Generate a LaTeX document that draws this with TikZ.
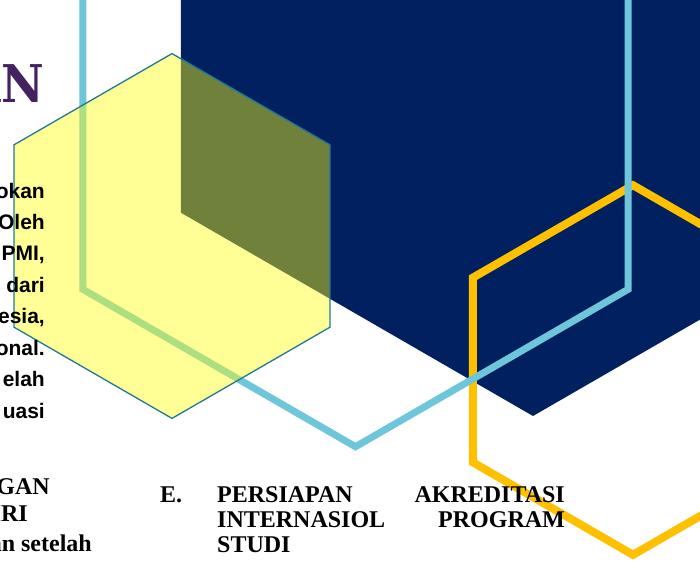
\documentclass[tikz,border=0pt]{standalone}
\usepackage{fontspec}
\newfontfamily\arialf{Liberation Sans}
\newfontfamily\timesf{Liberation Serif}
\newfontfamily\slabf{DejaVu Serif}
\definecolor{navyc}{HTML}{002060}
\definecolor{skyc}{HTML}{6EC6DA}
\definecolor{goldc}{HTML}{FFC000}
\definecolor{yelc}{HTML}{FFFF10}
\definecolor{tealc}{HTML}{1F7896}
\definecolor{purpc}{RGB}{68,33,96}
\newcommand{\hexag}[3]{({#1},{#2-#3}) -- ({#1+0.8660254*#3},{#2-0.5*#3}) -- ({#1+0.8660254*#3},{#2+0.5*#3}) -- ({#1},{#2+#3}) -- ({#1-0.8660254*#3},{#2+0.5*#3}) -- ({#1-0.8660254*#3},{#2-0.5*#3}) -- cycle}
\tikzset{
  sanstxt/.style={anchor=base east, inner sep=0pt, font=\arialf\bfseries\fontsize{21}{25}\selectfont},
  sertxt/.style={inner sep=0pt, font=\timesf\bfseries\fontsize{24}{28}\selectfont},
}
\begin{document}
\begin{tikzpicture}[x=1pt,y=-1pt]
\useasboundingbox (0,0) rectangle (700,562);
\fill[white] (0,0) rectangle (700,562);
\clip (0,0) rectangle (700,562);
% navy hexagon
\fill[navyc] \hexag{533}{9.5}{406.5};
% gold outline
\draw[goldc, line width=8pt] \hexag{633}{370}{184.8};
% light blue outline
\draw[skyc, line width=7pt] \hexag{355.5}{132}{314.7};
% yellow translucent hexagon
\fill[yelc, fill opacity=0.44] \hexag{172}{236}{182.4};
\draw[tealc, line width=1.3pt] \hexag{172}{236}{182.4};
% title fragment
\node[anchor=base east, inner sep=0pt, text=purpc, font=\slabf\bfseries\fontsize{52}{60}\selectfont, xscale=0.9] (ttl) at (44,102) {AN};
% left paragraph fragments
\node[sanstxt] (l1) at (45,198) {okan};
\node[sanstxt] (l2) at (45,229.4) {Oleh};
\node[sanstxt] (l3) at (45,260.9) {PMI,};
\node[sanstxt] (l4) at (45,292.3) {dari};
\node[sanstxt] (l5) at (45,323.7) {esia,};
\node[sanstxt] (l6) at (45,355.1) {onal.};
\node[sanstxt] (l7) at (45,386.6) {elah};
\node[sanstxt] (l8) at (45,418) {uasi};
% bottom-left serif fragments
\node[sertxt, anchor=base east] (b1) at (50,494) {GAN};
\node[sertxt, anchor=base east] (b2) at (28,521) {IRI};
\node[sertxt, anchor=base east] (b3) at (92,551) {an setelah};
% heading E
\node[sertxt, anchor=base west] (e0) at (160,502) {E.};
\node[sertxt, anchor=base west] (e1) at (217,502) {PERSIAPAN};
\node[sertxt, anchor=base east] (e2) at (565,502) {AKREDITASI};
\node[sertxt, anchor=base west] (e3) at (217,527) {INTERNASIOL};
\node[sertxt, anchor=base east] (e4) at (565,527) {PROGRAM};
\node[sertxt, anchor=base west] (e5) at (217,552) {STUDI};
\end{tikzpicture}
\end{document}
